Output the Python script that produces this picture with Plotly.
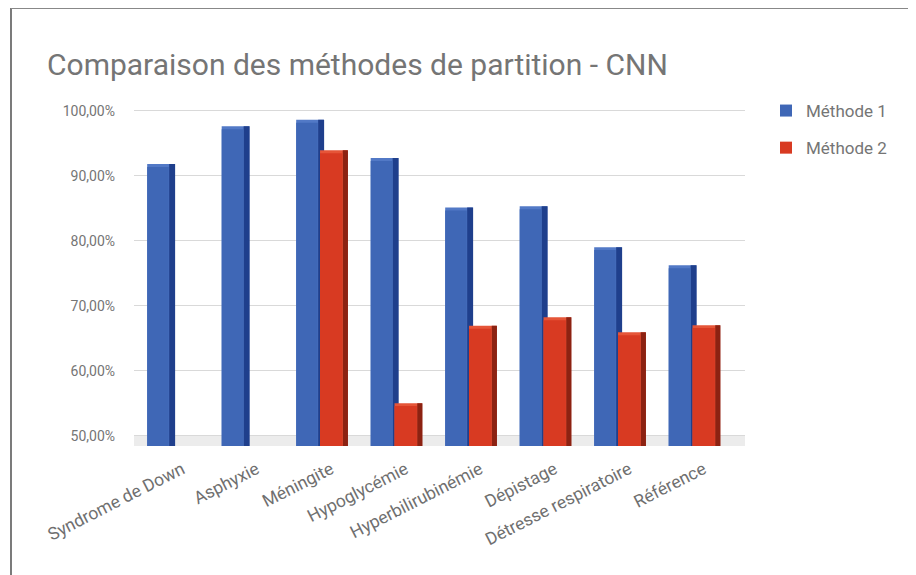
import plotly.graph_objects as go

categories = ["Syndrome de Down", "Asphyxie", "Méningite", "Hypoglycémie",
              "Hyperbilirubinémie", "Dépistage", "Détresse respiratoire", "Référence"]
methode1 = [91.4, 97.2, 98.2, 92.3, 84.7, 84.9, 78.6, 75.8]
methode2 = [None, None, 93.5, 54.6, 66.5, 67.8, 65.5, 66.6]
y_ticks = [50, 60, 70, 80, 90, 100]
y_tick_labels = ["50,00%", "60,00%", "70,00%", "80,00%", "90,00%", "100,00%"]

S = 8  # page body margin offset
W, H = 916 - S, 575 - S
# plot area in reference pixel coordinates
PX0, PX1, PY0, PY1 = 134, 745, 105, 446
L, T = PX0 - S, PY0 - S
R, B = W - (PX1 - S), H - (PY1 - S)
PW, PH = PX1 - PX0, PY1 - PY0

def px_x(px):
    return (px - PX0) / PW

def px_y(py):
    return (PY1 - py) / PH

cap = 0.45
series = [
    ("Méthode 1", methode1, "#3f67b6", "#5279c6", "#1f3f8c", -0.32, 0.29, -0.03, 0.08),
    ("Méthode 2", methode2, "#d83a22", "#e55538", "#8c2212", 0.0, 0.30, 0.30, 0.07),
]

fig = go.Figure()
for name, vals, front, capc, side, off, wid, soff, swid in series:
    capvals = [v + cap if v is not None else None for v in vals]
    fig.add_trace(go.Bar(x=categories, y=capvals, offset=off, width=wid + swid,
                         marker=dict(color=capc, line=dict(width=0)),
                         legendgroup=name, showlegend=False, hoverinfo="skip"))
    fig.add_trace(go.Bar(x=categories, y=capvals, offset=soff + 0.005, width=swid,
                         marker=dict(color=side, line=dict(width=0)),
                         legendgroup=name, showlegend=False, hoverinfo="skip"))
    fig.add_trace(go.Bar(x=categories, y=vals, offset=off, width=wid, name=name,
                         marker=dict(color=front, line=dict(width=0)),
                         legendgroup=name))

fig.update_layout(
    width=W, height=H,
    margin=dict(l=L, r=R, t=T, b=B),
    paper_bgcolor="white", plot_bgcolor="white",
    barmode="overlay",
    font=dict(family="Roboto", color="#757575", size=14),
    title=dict(text="Comparaison des méthodes de partition - CNN",
               x=(47 - S) / W, xanchor="left", xref="container",
               y=1 - (64 - S) / H, yanchor="middle", yref="container",
               font=dict(family="Roboto", size=30, color="#757575")),
    xaxis=dict(range=[-0.497, -0.497 + PW / 74.5], tickangle=-27,
               showgrid=False, zeroline=False, showline=False,
               ticklabelstandoff=9, ticklabelshift=11,
               tickfont=dict(size=17.5, color="#6f6f6f"), ticks=""),
    yaxis=dict(range=[48.46, 100.92], tickvals=y_ticks, ticktext=y_tick_labels,
               showgrid=True, gridcolor="#d9d9d9", gridwidth=1,
               zeroline=False, showline=False, ticks="", ticklabelstandoff=18,
               tickfont=dict(size=14, color="#757575")),
    legend=dict(x=px_x(766), y=px_y(93), xanchor="left", yanchor="top",
                traceorder="grouped", tracegroupgap=12,
                font=dict(size=17, color="#757575"), bgcolor="rgba(0,0,0,0)"),
    shapes=[
        dict(type="rect", xref="paper", yref="y", x0=0, x1=1, y0=48.46, y1=50,
             fillcolor="#ececec", line=dict(width=0), layer="below"),
        dict(type="line", xref="paper", yref="paper", x0=px_x(11), x1=px_x(11),
             y0=px_y(8), y1=px_y(575), line=dict(color="#222222", width=1.2)),
        dict(type="line", xref="paper", yref="paper", x0=px_x(11), x1=px_x(916),
             y0=px_y(8), y1=px_y(8), line=dict(color="#888888", width=2)),
    ],
)

fig.write_html("out.html")
